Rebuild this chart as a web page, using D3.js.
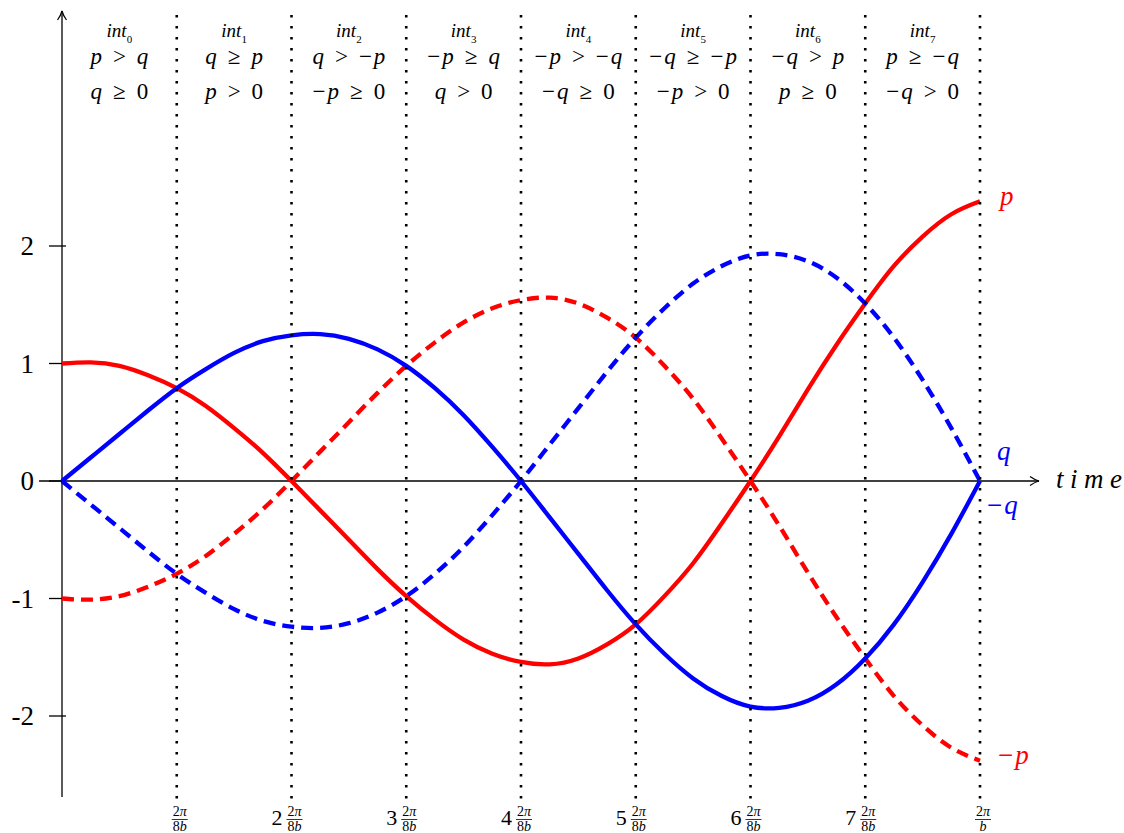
<!DOCTYPE html>
<html>
<head>
<meta charset="utf-8">
<script src="https://cdn.jsdelivr.net/npm/d3@7"></script>
<style>
  body { margin: 0; background: #fff; }
</style>
</head>
<body>
<svg id="chart" width="1124" height="833"></svg>
<script>
// time in units of 2pi/8b
var times = [0, 0.25, 0.5, 0.75, 1, 1.25, 1.5, 1.75, 2, 2.25, 2.5, 2.75, 3, 3.25, 3.5, 3.75,
             4, 4.25, 4.5, 4.75, 5, 5.25, 5.5, 5.75, 6, 6.25, 6.5, 6.75, 7, 7.25, 7.5, 7.75, 8];
var pVals = [1, 1.01, 0.98, 0.90, 0.79, 0.64, 0.45, 0.24, 0, -0.25, -0.50, -0.75, -0.98, -1.18, -1.35, -1.47,
             -1.54, -1.56, -1.51, -1.39, -1.22, -0.98, -0.70, -0.36, 0, 0.38, 0.78, 1.16, 1.51, 1.83, 2.08, 2.27, 2.38];
var qVals = [0, 0.20, 0.40, 0.60, 0.79, 0.95, 1.09, 1.19, 1.24, 1.25, 1.21, 1.12, 0.98, 0.79, 0.56, 0.29,
             0, -0.31, -0.62, -0.93, -1.22, -1.47, -1.68, -1.83, -1.92, -1.93, -1.87, -1.73, -1.51, -1.22, -0.86, -0.45, 0];
var negPVals = [-1, -1.01, -0.98, -0.90, -0.79, -0.64, -0.45, -0.24, 0, 0.25, 0.50, 0.75, 0.98, 1.18, 1.35, 1.47,
                1.54, 1.56, 1.51, 1.39, 1.22, 0.98, 0.70, 0.36, 0, -0.38, -0.78, -1.16, -1.51, -1.83, -2.08, -2.27, -2.38];
var negQVals = [0, -0.20, -0.40, -0.60, -0.79, -0.95, -1.09, -1.19, -1.24, -1.25, -1.21, -1.12, -0.98, -0.79, -0.56, -0.29,
                0, 0.31, 0.62, 0.93, 1.22, 1.47, 1.68, 1.83, 1.92, 1.93, 1.87, 1.73, 1.51, 1.22, 0.86, 0.45, 0];

var boundaries = [1, 2, 3, 4, 5, 6, 7, 8];
var xCoefs = ["", "2", "3", "4", "5", "6", "7", ""];
var xDenoms = ["8b", "8b", "8b", "8b", "8b", "8b", "8b", "b"];
var yTicks = [-2, -1, 0, 1, 2];
var yTickLabels = ["-2", "-1", "0", "1", "2"];

var intNames = ["0", "1", "2", "3", "4", "5", "6", "7"];
var condTop = ["p > q", "q ≥ p", "q > −p", "−p ≥ q", "−p > −q", "−q ≥ −p", "−q > p", "p ≥ −q"];
var condBottom = ["q ≥ 0", "p > 0", "−p ≥ 0", "q > 0", "−q ≥ 0", "−p > 0", "p ≥ 0", "−q > 0"];

var FONT = "'Liberation Serif', 'DejaVu Serif', serif";
var svg = d3.select("#chart");
var x = d3.scaleLinear().domain([0, 8]).range([62, 980]);
var y = d3.scaleLinear().domain([0, 2]).range([481, 246]);

var defs = svg.append("defs");
defs.append("marker").attr("id", "arrow")
    .attr("viewBox", "0 0 12 12").attr("refX", 10).attr("refY", 6)
    .attr("markerWidth", 12).attr("markerHeight", 12).attr("markerUnits", "userSpaceOnUse")
    .attr("orient", "auto")
  .append("path").attr("d", "M1,1.5 Q6,5 10,6 Q6,7 1,10.5")
    .attr("fill", "none").attr("stroke", "#000").attr("stroke-width", 1.2);

// y ticks
svg.selectAll("line.ytick").data(yTicks).enter().append("line")
    .attr("x1", 49).attr("x2", 66)
    .attr("y1", function(d) { return y(d); }).attr("y2", function(d) { return y(d); })
    .attr("stroke", "#000").attr("stroke-width", 1.3);
svg.selectAll("text.ylab").data(yTicks).enter().append("text")
    .attr("font-family", FONT)
    .attr("x", 34).attr("y", function(d) { return y(d) + 9; })
    .attr("text-anchor", "end").attr("font-size", 27)
    .text(function(d, i) { return yTickLabels[i]; });

// axes
svg.append("line").attr("x1", x(-0.2)).attr("x2", 1039).attr("y1", y(0)).attr("y2", y(0))
    .attr("stroke", "#000").attr("stroke-width", 1.3).attr("marker-end", "url(#arrow)");
svg.append("line").attr("x1", x(0)).attr("x2", x(0)).attr("y1", 797).attr("y2", 11)
    .attr("stroke", "#000").attr("stroke-width", 1.3).attr("marker-end", "url(#arrow)");
svg.append("text").attr("font-family", FONT).attr("x", 1056).attr("y", 488).attr("font-size", 27)
    .attr("font-style", "italic").attr("textLength", 66).attr("lengthAdjust", "spacing").text("time");

// curves
var line = d3.line().curve(d3.curveNatural)
    .x(function(d) { return x(d[0]); }).y(function(d) { return y(d[1]); });
var series = [
  {vals: pVals, color: "#ff0000", dash: null},
  {vals: negPVals, color: "#ff0000", dash: "12,7"},
  {vals: qVals, color: "#0000ff", dash: null},
  {vals: negQVals, color: "#0000ff", dash: "12,7"}
];
series.forEach(function(s) {
  svg.append("path").datum(d3.zip(times, s.vals))
      .attr("d", line).attr("fill", "none")
      .attr("stroke", s.color).attr("stroke-width", 4.3)
      .attr("stroke-dasharray", s.dash);
});

// dotted interval boundaries
svg.selectAll("line.bound").data(boundaries).enter().append("line")
    .attr("x1", function(d) { return x(d); }).attr("x2", function(d) { return x(d); })
    .attr("y1", 15).attr("y2", 799)
    .attr("stroke", "#000").attr("stroke-width", 2.6).attr("stroke-dasharray", "2.6,8.4");

// curve labels
var curveLabels = [
  {t: "p", x: 1000, y: 205, c: "#ff0000"},
  {t: "q", x: 997, y: 460, c: "#0000ff"},
  {t: "−q", x: 987, y: 514, c: "#0000ff"},
  {t: "−p", x: 998, y: 764, c: "#ff0000"}
];

// math text: letters italic, operators upright
function mathText(sel, str, gap) {
  str.split(" ").forEach(function(tok, i) {
    tok.split("").forEach(function(ch, j) {
      var isLetter = /[a-z]/.test(ch);
      sel.append("tspan")
          .attr("font-style", isLetter ? "italic" : "normal")
          .attr("dx", j > 0 ? 2 : (i > 0 ? gap : 0))
          .text(ch);
    });
  });
}

curveLabels.forEach(function(l) {
  var t = svg.append("text").attr("font-family", FONT).attr("x", l.x).attr("y", l.y)
      .attr("font-size", 27).attr("fill", l.c);
  mathText(t, l.t, 0);
});

// interval headings
var centers = intNames.map(function(d, i) { return (x(i) + x(i + 1)) / 2; });
intNames.forEach(function(n, i) {
  var h = svg.append("text").attr("font-family", FONT).attr("x", centers[i]).attr("y", 37)
      .attr("text-anchor", "middle").attr("font-size", 19).attr("font-style", "italic");
  h.append("tspan").text("int");
  h.append("tspan").attr("font-size", 11).attr("font-style", "normal").attr("dy", 6).text(n);

  var a = svg.append("text").attr("font-family", FONT).attr("x", centers[i]).attr("y", 64)
      .attr("text-anchor", "middle").attr("font-size", 23);
  mathText(a, condTop[i], 11);
  var b = svg.append("text").attr("font-family", FONT).attr("x", centers[i]).attr("y", 99)
      .attr("text-anchor", "middle").attr("font-size", 23);
  mathText(b, condBottom[i], 11);
});

// x tick labels (fractions)
boundaries.forEach(function(d, i) {
  var cx = x(d) + 3;
  var g = svg.append("g").attr("font-family", FONT);
  g.append("text").attr("x", cx).attr("y", 816).attr("text-anchor", "middle")
      .attr("font-size", 14).html('2<tspan font-style="italic">π</tspan>');
  g.append("line").attr("x1", cx - 8).attr("x2", cx + 8).attr("y1", 819.5).attr("y2", 819.5)
      .attr("stroke", "#000").attr("stroke-width", 0.8);
  var den = g.append("text").attr("x", cx).attr("y", 831).attr("text-anchor", "middle").attr("font-size", 14);
  xDenoms[i].split("").forEach(function(ch) {
    den.append("tspan").attr("font-style", /[a-z]/.test(ch) ? "italic" : "normal").text(ch);
  });
  if (xCoefs[i]) {
    g.append("text").attr("x", cx - 12).attr("y", 825).attr("text-anchor", "end")
        .attr("font-size", 22).text(xCoefs[i]);
  }
});
</script>
</body>
</html>
